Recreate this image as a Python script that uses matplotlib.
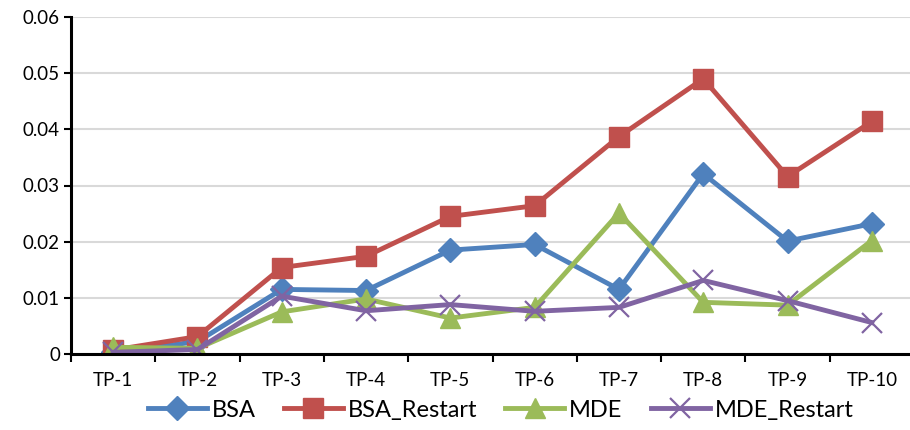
import matplotlib
matplotlib.use('Agg')
from matplotlib import pyplot as plt
from matplotlib import ticker

# test points and mean values for each algorithm
test_points = ['TP-1', 'TP-2', 'TP-3', 'TP-4', 'TP-5',
               'TP-6', 'TP-7', 'TP-8', 'TP-9', 'TP-10']
bsa = [0.0003, 0.0022, 0.0115, 0.0113, 0.0185,
       0.0195, 0.0115, 0.0321, 0.0201, 0.0232]
bsa_restart = [0.0007, 0.0031, 0.0154, 0.0174, 0.0245,
               0.0264, 0.0387, 0.0490, 0.0316, 0.0414]
mde = [0.0012, 0.0010, 0.0075, 0.0098, 0.0064,
       0.0083, 0.0251, 0.0092, 0.0087, 0.0202]
mde_restart = [0.0003, 0.0008, 0.0103, 0.0077, 0.0088,
               0.0076, 0.0083, 0.0131, 0.0095, 0.0056]

plt.rcParams['font.family'] = ['Lato', 'DejaVu Sans']

fig = plt.figure(figsize=(9.1, 4.3), dpi=100)
ax = fig.add_axes([71 / 910, 76 / 430, 843 / 910, 337 / 430])

xs = [i + 0.5 for i in range(len(test_points))]

series = [
    ('BSA', bsa, '#4F81BD', 'D', 12, {}),
    ('BSA_Restart', bsa_restart, '#C0504D', 's', 15, {}),
    ('MDE', mde, '#9BBB59', '^', 15, {}),
    ('MDE_Restart', mde_restart, '#8064A2', 'x', 15, {'markeredgewidth': 1.6}),
]
for name, values, color, marker, size, extra in series:
    ax.plot(xs, values,
            color=color,
            linewidth=3.5,
            marker=marker,
            markersize=size,
            markerfacecolor=color,
            markeredgecolor=color,
            label=name,
            **extra)

ax.set_xlim(0, len(test_points))
ax.set_ylim(0, 0.06)

ax.yaxis.set_major_locator(ticker.MultipleLocator(0.01))
ax.yaxis.set_major_formatter(ticker.FuncFormatter(
    lambda v, pos: '0' if abs(v) < 1e-9 else f'{v:.2f}'))

# category boundaries get the tick marks, labels sit in the middle
ax.xaxis.set_major_locator(ticker.FixedLocator(range(len(test_points) + 1)))
ax.xaxis.set_major_formatter(ticker.NullFormatter())
ax.xaxis.set_minor_locator(ticker.FixedLocator(xs))
ax.xaxis.set_minor_formatter(ticker.FixedFormatter(test_points))
ax.tick_params(axis='x', which='minor', length=0, pad=13, labelsize=13.5)
ax.tick_params(axis='x', which='major', length=6, width=1.5, direction='out')
ax.tick_params(axis='y', length=5, width=1.5, direction='out',
               labelsize=13.5, pad=3)

ax.grid(axis='y', color='#D9D9D9', linewidth=1.5)
ax.set_axisbelow(True)
for side in ['top', 'right']:
    ax.spines[side].set_visible(False)
for side in ['left', 'bottom']:
    ax.spines[side].set_linewidth(2.2)
    ax.spines[side].set_color('black')

fig.legend(loc='center',
           bbox_to_anchor=(0.55, 0.046),
           ncol=4,
           frameon=False,
           numpoints=1,
           handlelength=2.5,
           handletextpad=0.2,
           columnspacing=1.2,
           fontsize=17)

fig.savefig('out.png', dpi=100)
